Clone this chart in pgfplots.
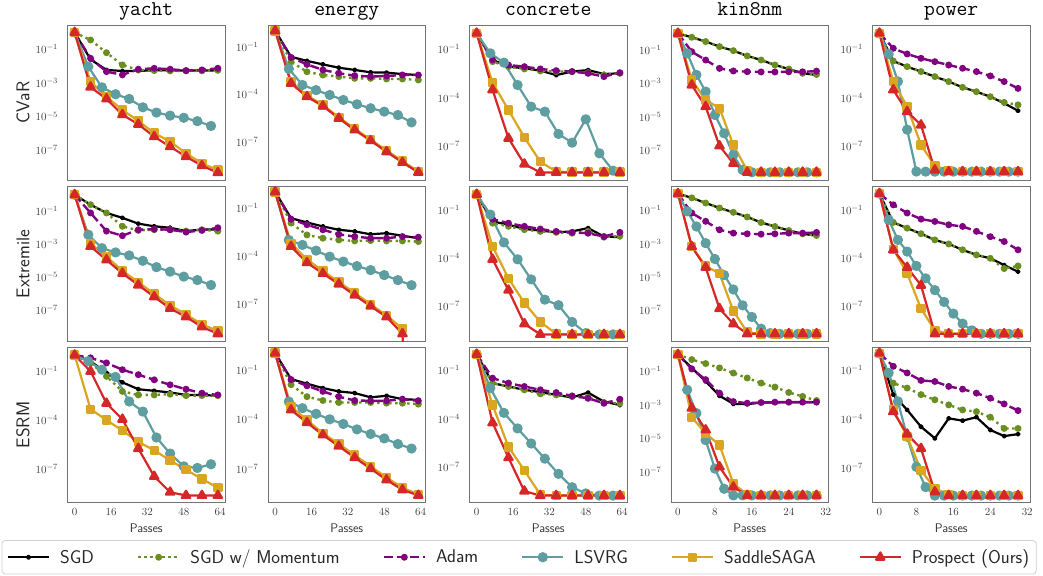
\documentclass[border=0pt]{standalone}
\usepackage{fontspec}
\usepackage{pgfplots}
\pgfplotsset{compat=1.18}
\definecolor{cOlive}{HTML}{6B8E23}
\definecolor{cPurple}{HTML}{800080}
\definecolor{cCadet}{HTML}{5F9EA0}
\definecolor{cGold}{HTML}{DAA520}
\definecolor{cRed}{HTML}{D62728}
\pgfplotsset{
  mySgd/.style={black, line width=2.2pt, line join=round, mark=*, mark size=1.5pt},
  myMom/.style={cOlive, line width=2.4pt, dash pattern=on 2.4pt off 3.6pt, mark=*, mark size=2.2pt, mark options={solid}},
  myAdam/.style={cPurple, line width=2.4pt, dash pattern=on 9pt off 4pt, mark=*, mark size=2.2pt, mark options={solid}},
  myLsvrg/.style={cCadet, line width=2.2pt, line join=round, mark=*, mark size=4pt},
  mySaga/.style={cGold, line width=2.2pt, line join=round, mark=square*, mark size=3.6pt},
  myPros/.style={cRed, line width=2.2pt, line join=round, mark=triangle*, mark size=4.8pt},
  every axis/.append style={scale only axis, width=157.5pt, height=155pt,
    axis line style={black!55, line width=0.9pt},
    major tick length=0pt, minor tick length=0pt,
    tick label style={font=\fontsize{11}{11}\selectfont, color=black!75},
    yticklabel style={xshift=-6pt},
    xticklabel style={yshift=-2pt},
    title style={at={(axis description cs:0.5,1)}, anchor=base, yshift=4pt, inner sep=0pt, font=\fontsize{21}{21}\selectfont\ttfamily},
    ylabel style={at={(axis description cs:-0.2825,0.5)}, anchor=center, rotate=0, inner sep=0pt, font=\fontsize{18.5}{18.5}\selectfont\sffamily, color=black!85},
    xlabel style={at={(axis description cs:0.5,-0.165)}, anchor=center, inner sep=0pt, font=\fontsize{12.5}{12.5}\selectfont\sffamily, color=black!80}},
  myColA/.style={xmin=-3.15, xmax=66.15, xtick={0,16,32,48,64}},
  myColB/.style={xmin=-1.5, xmax=32.6, xtick={0,8,16,24,32}},
  myTf/.style={ytick={1e-1,1e-3,1e-5,1e-7}},
  myTt/.style={ytick={1e-1,1e-4,1e-7}},
  myNoX/.style={xticklabels={}},
  myBot/.style={xlabel={Passes}},
}
\begin{document}
\begin{tikzpicture}
\path[use as bounding box] (0pt,0pt) rectangle (1043pt,-575pt);
% ================= ROW 1: CVaR =================
\begin{semilogyaxis}[myColA, myNoX, myTf, ymin=1.62e-9, ymax=2.82, title={yacht}, ylabel={CVaR}, at={(67.5pt,-25pt)}, anchor=north west]
\addplot[mySgd] coordinates {(0,1)(7,2.5e-2)(14,5.9e-3)(21,5.1e-3)(28,5.2e-3)(35,5.6e-3)(42,5.6e-3)(49,5.4e-3)(56,5.4e-3)(63,5.6e-3)};
\addplot[myMom] coordinates {(0,1)(7,0.36)(14,6.3e-2)(21,1.17e-2)(28,5.9e-3)(35,5.4e-3)(42,5.2e-3)(49,5.2e-3)(56,5.2e-3)(63,5.6e-3)};
\addplot[myAdam] coordinates {(0,1)(7,2.9e-2)(14,4.7e-3)(21,3.0e-3)(28,6.5e-3)(35,7.4e-3)(42,6.5e-3)(49,5.4e-3)(56,5.9e-3)(63,7.4e-3)};
\addplot[myLsvrg] coordinates {(0,1)(6,9.3e-3)(12,5.4e-4)(18,2.1e-4)(24,1.1e-4)(30,3.5e-5)(36,1.7e-5)(42,1.12e-5)(48,8.3e-6)(54,5.2e-6)(60,2.7e-6)};
\addplot[mySaga] coordinates {(0,1)(7,1.17e-3)(14,1.5e-4)(21,2.4e-5)(28,5.4e-6)(35,1e-6)(42,3.2e-7)(49,6.3e-8)(56,1.58e-8)(63,6.3e-9)};
\addplot[myPros] coordinates {(0,1)(7,5.6e-4)(14,1.1e-4)(21,1.26e-5)(28,3.4e-6)(35,6.2e-7)(42,1.58e-7)(49,4e-8)(56,1.15e-8)(63,4.4e-9)};
\end{semilogyaxis}
\begin{semilogyaxis}[myColA, myNoX, myTt, ymin=3.8e-10, ymax=2.34, title={energy}, at={(268pt,-25pt)}, anchor=north west]
\addplot[mySgd] coordinates {(0,1)(7,2.3e-2)(14,1.26e-2)(21,7.6e-3)(28,4.7e-3)(35,3.4e-3)(42,2.4e-3)(49,2.3e-3)(56,1.86e-3)(63,1.62e-3)};
\addplot[myMom] coordinates {(0,1)(7,1.12e-2)(14,2.6e-3)(21,1.62e-3)(28,1.29e-3)(35,1e-3)(42,1e-3)(49,9.1e-4)(56,9.1e-4)(63,7.9e-4)};
\addplot[myAdam] coordinates {(0,1)(7,2.1e-2)(14,7.6e-3)(21,3.4e-3)(28,2.1e-3)(35,1.48e-3)(42,1.29e-3)(49,1.41e-3)(56,1.62e-3)(63,1.62e-3)};
\addplot[myLsvrg] coordinates {(0,1)(6,4e-3)(12,3.8e-4)(18,1.8e-4)(24,8.9e-5)(30,4.3e-5)(36,2.3e-5)(42,1.29e-5)(48,7.9e-6)(54,4.8e-6)(60,1.66e-6)};
\addplot[mySaga] coordinates {(0,1)(7,6.3e-4)(14,8.3e-5)(21,2.1e-5)(28,3.5e-6)(35,6.6e-7)(42,1.38e-7)(49,2.8e-8)(56,5.9e-9)(63,1.32e-9)};
\addplot[myPros] coordinates {(0,1)(7,4.8e-4)(14,6.9e-5)(21,1.78e-5)(28,3e-6)(35,5.5e-7)(42,1.15e-7)(49,2.3e-8)(56,4.9e-9)(63,1.15e-9)};
\end{semilogyaxis}
\begin{semilogyaxis}[myColA, myNoX, myTt, ymin=7.41e-10, ymax=3.24, title={concrete}, at={(469.5pt,-25pt)}, anchor=north west]
\addplot[mySgd] coordinates {(0,1)(7,2.2e-2)(14,8.3e-3)(21,6.6e-3)(28,4.7e-3)(35,2.5e-3)(42,4.1e-3)(49,5.1e-3)(56,2.9e-3)(63,3.2e-3)};
\addplot[myMom] coordinates {(0,1)(7,1.7e-2)(14,8.3e-3)(21,6e-3)(28,4.5e-3)(35,4.1e-3)(42,4.1e-3)(49,3.5e-3)(56,2.5e-3)(63,3.2e-3)};
\addplot[myAdam] coordinates {(0,1)(7,2.2e-2)(14,1.05e-2)(21,8.3e-3)(28,6e-3)(35,4.7e-3)(42,4.1e-3)(49,3.2e-3)(56,2e-3)(63,3.5e-3)};
\addplot[myLsvrg] coordinates {(0,1)(6,5.6e-2)(12,1.48e-2)(18,6e-4)(24,2.7e-5)(30,1.32e-5)(36,5.4e-7)(42,1.55e-7)(48,4.4e-6)(54,3.4e-8)(60,2.8e-9)};
\addplot[mySaga] coordinates {(0,1)(7,8.5e-4)(14,1.66e-5)(21,3.3e-7)(28,1.02e-8)(35,2.45e-9)(42,2.3e-9)(49,2.3e-9)(56,2.3e-9)(63,2.3e-9)};
\addplot[myPros] coordinates {(0,1)(7,3e-4)(14,2.9e-7)(21,7.2e-9)(28,2.2e-9)(35,2.2e-9)(42,2.2e-9)(49,2.2e-9)(56,2.2e-9)(63,2.2e-9)};
\end{semilogyaxis}
\begin{semilogyaxis}[myColB, myNoX, myTf, ymin=1.58e-9, ymax=3.16, title={kin8nm}, at={(671pt,-25pt)}, anchor=north west]
\addplot[mySgd] coordinates {(0,1)(3,0.58)(6,0.32)(9,0.16)(12,9.1e-2)(15,4.4e-2)(18,2.5e-2)(21,1.26e-2)(24,7.2e-3)(27,4e-3)(30,3.2e-3)};
\addplot[myMom] coordinates {(0,1)(3,0.58)(6,0.32)(9,0.16)(12,9.1e-2)(15,4.4e-2)(18,2.5e-2)(21,1.26e-2)(24,7.2e-3)(27,4e-3)(30,3.4e-3)};
\addplot[myAdam] coordinates {(0,1)(3,7.9e-2)(6,2.5e-2)(9,7.9e-3)(12,5.5e-3)(15,5e-3)(18,4.8e-3)(21,4.8e-3)(24,4.9e-3)(27,4.9e-3)(30,5.4e-3)};
\addplot[myLsvrg] coordinates {(0,1)(2,6.3e-2)(4,3.2e-3)(6,3.2e-4)(8,1.26e-5)(10,1e-6)(12,5e-8)(14,6.3e-9)(16,4.6e-9)(18,4.6e-9)(20,4.6e-9)(22,4.6e-9)(24,4.6e-9)(26,4.6e-9)(28,4.6e-9)(30,4.6e-9)};
\addplot[mySaga] coordinates {(0,1)(3,1.58e-3)(6,1e-4)(9,3.2e-5)(12,2e-7)(15,5.8e-9)(18,4.6e-9)(21,4.6e-9)(24,4.6e-9)(27,4.6e-9)(30,4.6e-9)};
\addplot[myPros] coordinates {(0,1)(3,7.9e-4)(6,4e-5)(9,1.74e-7)(12,1.58e-8)(15,4.6e-9)(18,4.6e-9)(21,4.6e-9)(24,4.6e-9)(27,4.6e-9)(30,4.6e-9)};
\end{semilogyaxis}
\begin{semilogyaxis}[myColB, myNoX, myTt, ymin=7.41e-10, ymax=3.24, title={power}, at={(872.5pt,-25pt)}, anchor=north west]
\addplot[mySgd] coordinates {(0,1)(3,1.86e-2)(6,8.3e-3)(9,4.1e-3)(12,2e-3)(15,9.8e-4)(18,4.3e-4)(21,2.3e-4)(24,1.12e-4)(27,4.4e-5)(30,1.51e-5)};
\addplot[myMom] coordinates {(0,1)(3,1.86e-2)(6,8.3e-3)(9,4.1e-3)(12,2e-3)(15,9.8e-4)(18,4.3e-4)(21,2.3e-4)(24,1.12e-4)(27,5e-5)(30,3.5e-5)};
\addplot[myAdam] coordinates {(0,1)(3,0.115)(6,5.1e-2)(9,2.75e-2)(12,1.7e-2)(15,1.05e-2)(18,6.6e-3)(21,4.1e-3)(24,2.2e-3)(27,9.8e-4)(30,3.7e-4)};
\addplot[myLsvrg] coordinates {(0,1)(2,5e-2)(4,1e-3)(6,1e-6)(8,2.5e-9)(10,2.45e-9)(12,2.45e-9)(14,2.45e-9)(16,2.45e-9)(18,2.45e-9)(20,2.45e-9)(22,2.45e-9)(24,2.45e-9)(26,2.45e-9)(28,2.45e-9)(30,2.45e-9)};
\addplot[mySaga] coordinates {(0,1)(3,9.8e-4)(6,2.7e-5)(9,1.12e-7)(12,5.8e-9)(15,2.8e-9)(18,2.45e-9)(21,2.45e-9)(24,2.45e-9)(27,2.45e-9)(30,2.45e-9)};
\addplot[myPros] coordinates {(0,1)(3,3e-4)(6,1.32e-5)(9,1.95e-6)(12,3.1e-9)(15,2.45e-9)(18,2.45e-9)(21,2.45e-9)(24,2.45e-9)(27,2.45e-9)(30,2.45e-9)};
\end{semilogyaxis}
% ================= ROW 2: Extremile =================
\begin{semilogyaxis}[myColA, myNoX, myTf, ymin=1.29e-9, ymax=3.16, ylabel={Extremile}, at={(67.5pt,-186.5pt)}, anchor=north west]
\addplot[mySgd] coordinates {(0,1)(7,0.25)(14,7.9e-2)(21,4e-2)(28,1.78e-2)(35,1.23e-2)(42,1e-2)(49,6.3e-3)(56,7.9e-3)(63,7.9e-3)};
\addplot[myMom] coordinates {(0,1)(7,0.25)(14,7.9e-2)(21,1.23e-2)(28,6.9e-3)(35,7.6e-3)(42,7.6e-3)(49,6.3e-3)(56,7.6e-3)(63,6.3e-3)};
\addplot[myAdam] coordinates {(0,1)(7,7.9e-2)(14,6.3e-3)(21,3.3e-3)(28,7.6e-3)(35,8.3e-3)(42,7.6e-3)(49,5.5e-3)(56,6.9e-3)(63,1e-2)};
\addplot[myLsvrg] coordinates {(0,1)(6,3.8e-3)(12,5.8e-4)(18,3.2e-4)(24,2.1e-4)(30,1e-4)(36,4.1e-5)(42,2.2e-5)(48,1.1e-5)(54,6.8e-6)(60,3.4e-6)};
\addplot[mySaga] coordinates {(0,1)(7,1.12e-3)(14,1.78e-4)(21,2.5e-5)(28,5e-6)(35,1e-6)(42,2e-7)(49,5.6e-8)(56,1.41e-8)(63,5.6e-9)};
\addplot[myPros] coordinates {(0,1)(7,7.4e-4)(14,1.12e-4)(21,1.74e-5)(28,3.4e-6)(35,6.6e-7)(42,1.29e-7)(49,4e-8)(56,9.8e-9)(63,3.8e-9)};
\end{semilogyaxis}
\begin{semilogyaxis}[myColA, myNoX, myTt, ymin=4.79e-10, ymax=2.19, at={(268pt,-186.5pt)}, anchor=north west]
\addplot[mySgd] coordinates {(0,1)(7,2.3e-2)(14,1.26e-2)(21,7.1e-3)(28,4.4e-3)(35,3.5e-3)(42,2.3e-3)(49,2.7e-3)(56,1.86e-3)(63,1.32e-3)};
\addplot[myMom] coordinates {(0,1)(7,1.15e-2)(14,2.1e-3)(21,1.32e-3)(28,1.02e-3)(35,8.9e-4)(42,9.3e-4)(49,8.9e-4)(56,8.9e-4)(63,8.1e-4)};
\addplot[myAdam] coordinates {(0,1)(7,2e-2)(14,9.1e-3)(21,4.4e-3)(28,2.3e-3)(35,1.66e-3)(42,1.32e-3)(49,1.32e-3)(56,1.66e-3)(63,1.51e-3)};
\addplot[myLsvrg] coordinates {(0,1)(6,1.02e-3)(12,5e-4)(18,2.2e-4)(24,9.3e-5)(30,4.6e-5)(36,2.4e-5)(42,1.35e-5)(48,6.6e-6)(54,3.2e-6)(60,1.55e-6)};
\addplot[mySaga] coordinates {(0,1)(7,6.3e-4)(14,6.3e-5)(21,1.2e-5)(28,2.5e-6)(35,5.1e-7)(42,1e-7)(49,2e-8)(56,3e-9)};
\addplot[myPros, no markers, forget plot] coordinates {(56,1.45e-9)(63,1e-30)};
\addplot[myPros] coordinates {(0,1)(7,4e-4)(14,3.9e-5)(21,8.3e-6)(28,1.82e-6)(35,3.7e-7)(42,7.6e-8)(49,1.62e-8)(56,1.45e-9)};
\end{semilogyaxis}
\begin{semilogyaxis}[myColA, myNoX, myTt, ymin=6.31e-10, ymax=3.09, at={(469.5pt,-186.5pt)}, anchor=north west]
\addplot[mySgd] coordinates {(0,1)(7,2e-2)(14,1.26e-2)(21,6.8e-3)(28,5.5e-3)(35,4.2e-3)(42,4.8e-3)(49,7.8e-3)(56,2.3e-3)(63,2.1e-3)};
\addplot[myMom] coordinates {(0,1)(7,1.58e-2)(14,1e-2)(21,6.2e-3)(28,4.8e-3)(35,4.2e-3)(42,3.7e-3)(49,4.8e-3)(56,2.1e-3)(63,2.5e-3)};
\addplot[myAdam] coordinates {(0,1)(7,2.8e-2)(14,1.58e-2)(21,1e-2)(28,6.8e-3)(35,4.8e-3)(42,4.2e-3)(49,3.7e-3)(56,2.3e-3)(63,4.2e-3)};
\addplot[myLsvrg] coordinates {(0,1)(6,5.4e-2)(12,9.8e-4)(18,8.7e-5)(24,4.8e-6)(30,2.6e-7)(36,1.17e-7)(42,1.05e-8)(48,2.1e-9)(54,1.74e-9)(60,1.74e-9)};
\addplot[mySaga] coordinates {(0,1)(7,5.5e-4)(14,5.5e-6)(21,1.62e-7)(28,1.05e-8)(35,1.9e-9)(42,1.74e-9)(49,1.74e-9)(56,1.74e-9)(63,1.74e-9)};
\addplot[myPros] coordinates {(0,1)(7,8.7e-5)(14,1.02e-6)(21,8.1e-9)(28,1.74e-9)(35,1.74e-9)(42,1.74e-9)(49,1.74e-9)(56,1.74e-9)(63,1.74e-9)};
\end{semilogyaxis}
\begin{semilogyaxis}[myColB, myNoX, myTf, ymin=1.35e-9, ymax=2.69, at={(671pt,-186.5pt)}, anchor=north west]
\addplot[mySgd] coordinates {(0,1)(3,0.56)(6,0.275)(9,0.138)(12,7.6e-2)(15,4e-2)(18,1.86e-2)(21,1.07e-2)(24,6.2e-3)(27,3.9e-3)(30,3e-3)};
\addplot[myMom] coordinates {(0,1)(3,0.56)(6,0.275)(9,0.138)(12,7.6e-2)(15,4e-2)(18,1.86e-2)(21,1.07e-2)(24,6.2e-3)(27,3.9e-3)(30,3.1e-3)};
\addplot[myAdam] coordinates {(0,1)(3,6.9e-2)(6,2.2e-2)(9,6.8e-3)(12,4.3e-3)(15,3.9e-3)(18,3.7e-3)(21,3.9e-3)(24,4.3e-3)(27,4.3e-3)(30,4.7e-3)};
\addplot[myLsvrg] coordinates {(0,1)(2,8.7e-2)(4,1.07e-2)(6,1.07e-3)(8,1.2e-4)(10,1.29e-5)(12,1.78e-6)(14,2e-7)(16,4e-8)(18,7.9e-9)(20,4.3e-9)(22,3.9e-9)(24,3.9e-9)(26,3.9e-9)(28,3.9e-9)(30,3.9e-9)};
\addplot[mySaga] coordinates {(0,1)(3,6.6e-4)(6,4.6e-5)(9,1.62e-5)(12,9.1e-8)(15,4.9e-9)(18,3.9e-9)(21,3.9e-9)(24,3.9e-9)(27,3.9e-9)(30,3.9e-9)};
\addplot[myPros] coordinates {(0,1)(3,6.6e-4)(6,3.8e-5)(9,1.26e-7)(12,1.55e-8)(15,3.9e-9)(18,3.9e-9)(21,3.9e-9)(24,3.9e-9)(27,3.9e-9)(30,3.9e-9)};
\end{semilogyaxis}
\begin{semilogyaxis}[myColB, myNoX, myTt, ymin=6.46e-10, ymax=2.75, at={(872.5pt,-186.5pt)}, anchor=north west]
\addplot[mySgd] coordinates {(0,1)(3,1.62e-2)(6,7.1e-3)(9,3.2e-3)(12,1.32e-3)(15,7.4e-4)(18,3.2e-4)(21,1.55e-4)(24,9.5e-5)(27,3.6e-5)(30,1.41e-5)};
\addplot[myMom] coordinates {(0,1)(3,1.62e-2)(6,7.1e-3)(9,3.2e-3)(12,1.32e-3)(15,7.4e-4)(18,3.2e-4)(21,1.55e-4)(24,9.5e-5)(27,2.2e-5)(30,3.2e-5)};
\addplot[myAdam] coordinates {(0,1)(3,0.2)(6,6.2e-2)(9,2.6e-2)(12,1.86e-2)(15,1.15e-2)(18,9.1e-3)(21,4.5e-3)(24,2.1e-3)(27,1.05e-3)(30,3.2e-4)};
\addplot[myLsvrg] coordinates {(0,1)(2,2.3e-2)(4,1.32e-3)(6,2.5e-4)(8,3.2e-5)(10,5.4e-6)(12,1e-6)(14,1.86e-7)(16,3.5e-8)(18,8.3e-9)(20,3.2e-9)(22,1.95e-9)(24,1.95e-9)(26,1.95e-9)(28,1.95e-9)(30,1.95e-9)};
\addplot[mySaga] coordinates {(0,1)(3,3.5e-4)(6,1.1e-5)(9,7.1e-8)(12,3.2e-9)(15,1.95e-9)(18,1.95e-9)(21,1.95e-9)(24,1.95e-9)(27,1.95e-9)(30,1.95e-9)};
\addplot[myPros] coordinates {(0,1)(3,3.2e-4)(6,2.6e-5)(9,2e-6)(12,1.95e-9)(15,1.95e-9)(18,1.95e-9)(21,1.95e-9)(24,1.95e-9)(27,1.95e-9)(30,1.95e-9)};
\end{semilogyaxis}
% ================= ROW 3: ESRM =================
\begin{semilogyaxis}[myColA, myBot, myTt, ymin=8.13e-10, ymax=2.95, ylabel={ESRM}, at={(67.5pt,-347.5pt)}, anchor=north west]
\addplot[mySgd] coordinates {(0,1)(7,0.42)(14,7.9e-2)(21,2.1e-2)(28,7.9e-3)(35,6.3e-3)(42,5e-3)(49,3.5e-3)(56,3.5e-3)(63,3.1e-3)};
\addplot[myMom] coordinates {(0,1)(7,0.33)(14,4.9e-2)(21,5.8e-3)(28,3.5e-3)(35,3.5e-3)(42,3.9e-3)(49,3.2e-3)(56,3.2e-3)(63,3.2e-3)};
\addplot[myAdam] coordinates {(0,1)(7,0.68)(14,0.33)(21,0.126)(28,6.2e-2)(35,3e-2)(42,1.48e-2)(49,7.9e-3)(56,4.5e-3)(63,3.5e-3)};
\addplot[myLsvrg] coordinates {(0,1)(6,0.42)(12,0.126)(18,4.5e-2)(24,1.38e-3)(30,3.3e-4)(36,8.3e-6)(42,8.5e-7)(48,1.38e-7)(54,1.1e-7)(60,1.86e-7)};
\addplot[mySaga] coordinates {(0,1)(7,4.6e-4)(14,1e-4)(21,2.2e-5)(28,4.5e-6)(35,1.35e-6)(42,3.2e-7)(49,8.5e-8)(56,2.3e-8)(63,6.6e-9)};
\addplot[myPros] coordinates {(0,1)(7,0.1)(14,1.07e-3)(21,1.1e-4)(28,1.74e-6)(35,3.3e-8)(42,3.5e-9)(49,2.2e-9)(56,2.2e-9)(63,2.2e-9)};
\end{semilogyaxis}
\begin{semilogyaxis}[myColA, myBot, myTt, ymin=8.91e-10, ymax=2.19, at={(268pt,-347.5pt)}, anchor=north west]
\addplot[mySgd] coordinates {(0,1)(7,2.7e-2)(14,1.41e-2)(21,7.6e-3)(28,4.8e-3)(35,3.8e-3)(42,2.1e-3)(49,2.6e-3)(56,1.62e-3)(63,1.48e-3)};
\addplot[myMom] coordinates {(0,1)(7,1.23e-2)(14,2.3e-3)(21,1.35e-3)(28,1.02e-3)(35,1.02e-3)(42,1.02e-3)(49,9.3e-4)(56,9.3e-4)(63,8.1e-4)};
\addplot[myAdam] coordinates {(0,1)(7,2.5e-2)(14,1.05e-2)(21,4.8e-3)(28,2.3e-3)(35,1.35e-3)(42,1.29e-3)(49,1.29e-3)(56,1.62e-3)(63,1.29e-3)};
\addplot[myLsvrg] coordinates {(0,1)(6,1.17e-3)(12,4.6e-4)(18,2.1e-4)(24,9.8e-5)(30,5.1e-5)(36,2.4e-5)(42,1.26e-5)(48,6.8e-6)(54,3.1e-6)(60,1.66e-6)};
\addplot[mySaga] coordinates {(0,1)(7,5.8e-4)(14,8.9e-5)(21,1.38e-5)(28,3.2e-6)(35,6.6e-7)(42,1.41e-7)(49,2.9e-8)(56,7.1e-9)(63,2.75e-9)};
\addplot[myPros] coordinates {(0,1)(7,3.6e-4)(14,6.2e-5)(21,1.1e-5)(28,2.3e-6)(35,4.7e-7)(42,1e-7)(49,2.1e-8)(56,5.2e-9)(63,2.4e-9)};
\end{semilogyaxis}
\begin{semilogyaxis}[myColA, myBot, myTt, ymin=6.31e-10, ymax=2.63,
  legend columns=6,
  legend image code/.code={\draw[sharp corners, mark repeat=2, mark phase=2, #1] plot coordinates {(0pt,0pt) (20.5pt,0pt) (41pt,0pt)};},
  legend style={at={(axis description cs:-2.971,-0.243)}, anchor=north west, draw=black!18, line width=0.8pt, rounded corners=3pt,
    font=\fontsize{18.5}{18.5}\selectfont\sffamily, text=black!85, inner xsep=5pt, inner ysep=7pt, nodes={inner sep=2pt},
    /tikz/every odd column/.append style={column sep=8pt},
    /tikz/every even column/.append style={column sep=41pt}},
  legend cell align=left, at={(469.5pt,-347.5pt)}, anchor=north west]
\addplot[mySgd] coordinates {(0,1)(7,1.62e-2)(14,1e-2)(21,6.2e-3)(28,4.5e-3)(35,3e-3)(42,2.1e-3)(49,4.2e-3)(56,1.15e-3)(63,7.1e-4)};
\addlegendentry{SGD}
\addplot[myMom] coordinates {(0,1)(7,1.62e-2)(14,1e-2)(21,6.2e-3)(28,3.5e-3)(35,3e-3)(42,2.4e-3)(49,2.1e-3)(56,1e-3)(63,9.1e-4)};
\addlegendentry{SGD w/ Momentum}
\addplot[myAdam] coordinates {(0,1)(7,3.3e-2)(14,1.62e-2)(21,1e-2)(28,6.2e-3)(35,4.2e-3)(42,2.6e-3)(49,1.86e-3)(56,9.1e-4)(63,1.62e-3)};
\addlegendentry{Adam}
\addplot[myLsvrg] coordinates {(0,1)(6,7.9e-3)(12,2.3e-4)(18,2.5e-5)(24,2.9e-6)(30,3.3e-7)(36,3.8e-8)(42,5.6e-9)(48,2.3e-9)(54,1.7e-9)(60,1.7e-9)};
\addlegendentry{LSVRG}
\addplot[mySaga] coordinates {(0,1)(7,7.1e-4)(14,1.78e-6)(21,6.2e-8)(28,1.95e-9)(35,1.7e-9)(42,1.7e-9)(49,1.7e-9)(56,1.7e-9)(63,1.7e-9)};
\addlegendentry{SaddleSAGA}
\addplot[myPros] coordinates {(0,1)(7,5.6e-5)(14,3.8e-7)(21,3.2e-9)(28,1.7e-9)(35,1.7e-9)(42,1.7e-9)(49,1.7e-9)(56,1.7e-9)(63,1.7e-9)};
\addlegendentry{Prospect (Ours)}
\end{semilogyaxis}
\begin{semilogyaxis}[myColB, myBot, myTf, ymin=1.51e-9, ymax=2.63, at={(671pt,-347.5pt)}, anchor=north west]
\addplot[mySgd] coordinates {(0,1)(3,0.16)(6,2.5e-2)(9,3.5e-3)(12,1.15e-3)(15,1.1e-3)(18,1.38e-3)(21,1.38e-3)(24,1.45e-3)(27,1.45e-3)(30,1.45e-3)};
\addplot[myMom] coordinates {(0,1)(3,0.5)(6,0.29)(9,0.16)(12,7.9e-2)(15,4e-2)(18,2e-2)(21,1.15e-2)(24,5.5e-3)(27,3.2e-3)(30,1.82e-3)};
\addplot[myAdam] coordinates {(0,1)(3,0.138)(6,3.2e-2)(9,5e-3)(12,1.58e-3)(15,1.26e-3)(18,1.38e-3)(21,1.45e-3)(24,1.45e-3)(27,1.45e-3)(30,1.45e-3)};
\addplot[myLsvrg] coordinates {(0,1)(2,7.9e-3)(4,3.2e-4)(6,7.9e-6)(8,1.58e-7)(10,1e-8)(12,4e-9)(14,4e-9)(16,4e-9)(18,4e-9)(20,4e-9)(22,4e-9)(24,4e-9)(26,4e-9)(28,4e-9)(30,4e-9)};
\addplot[mySaga] coordinates {(0,1)(3,1.82e-4)(6,2e-5)(9,4e-6)(12,2e-8)(15,4.6e-9)(18,4e-9)(21,4e-9)(24,4e-9)(27,4e-9)(30,4e-9)};
\addplot[myPros] coordinates {(0,1)(3,6.3e-4)(6,3.2e-5)(9,2e-7)(12,1.26e-8)(15,4e-9)(18,4e-9)(21,4e-9)(24,4e-9)(27,4e-9)(30,4e-9)};
\end{semilogyaxis}
\begin{semilogyaxis}[myColB, myBot, myTt, ymin=7.94e-10, ymax=2.24, at={(872.5pt,-347.5pt)}, anchor=north west]
\addplot[mySgd] coordinates {(0,1)(3,3e-3)(6,3.5e-4)(9,3.3e-5)(12,6.5e-6)(15,1.07e-4)(18,7.8e-5)(21,1.26e-4)(24,2.1e-5)(27,8.9e-6)(30,1.17e-5)};
\addplot[myMom] coordinates {(0,1)(3,1.51e-2)(6,7.6e-3)(9,3e-3)(12,1.45e-3)(15,7.1e-4)(18,3.5e-4)(21,2.75e-4)(24,1.26e-4)(27,2.6e-5)(30,2.6e-5)};
\addplot[myAdam] coordinates {(0,1)(3,0.16)(6,6.3e-2)(9,2.2e-2)(12,1.9e-2)(15,9.5e-3)(18,6.5e-3)(21,3.7e-3)(24,1.82e-3)(27,8.1e-4)(30,3.2e-4)};
\addplot[myLsvrg] coordinates {(0,1)(2,6.3e-2)(4,1.15e-3)(6,8.1e-6)(8,1.17e-7)(10,6.9e-9)(12,2.1e-9)(14,2.1e-9)(16,2.1e-9)(18,2.1e-9)(20,2.1e-9)(22,2.1e-9)(24,2.1e-9)(26,2.1e-9)(28,2.1e-9)(30,2.1e-9)};
\addplot[mySaga] coordinates {(0,1)(3,3.5e-4)(6,8.1e-6)(9,7.4e-8)(12,5.5e-9)(15,2.5e-9)(18,2.1e-9)(21,2.1e-9)(24,2.1e-9)(27,2.1e-9)(30,2.1e-9)};
\addplot[myPros] coordinates {(0,1)(3,2.75e-4)(6,1.17e-5)(9,1.55e-6)(12,3.5e-9)(15,2.1e-9)(18,2.1e-9)(21,2.1e-9)(24,2.1e-9)(27,2.1e-9)(30,2.1e-9)};
\end{semilogyaxis}
\end{tikzpicture}
\end{document}
